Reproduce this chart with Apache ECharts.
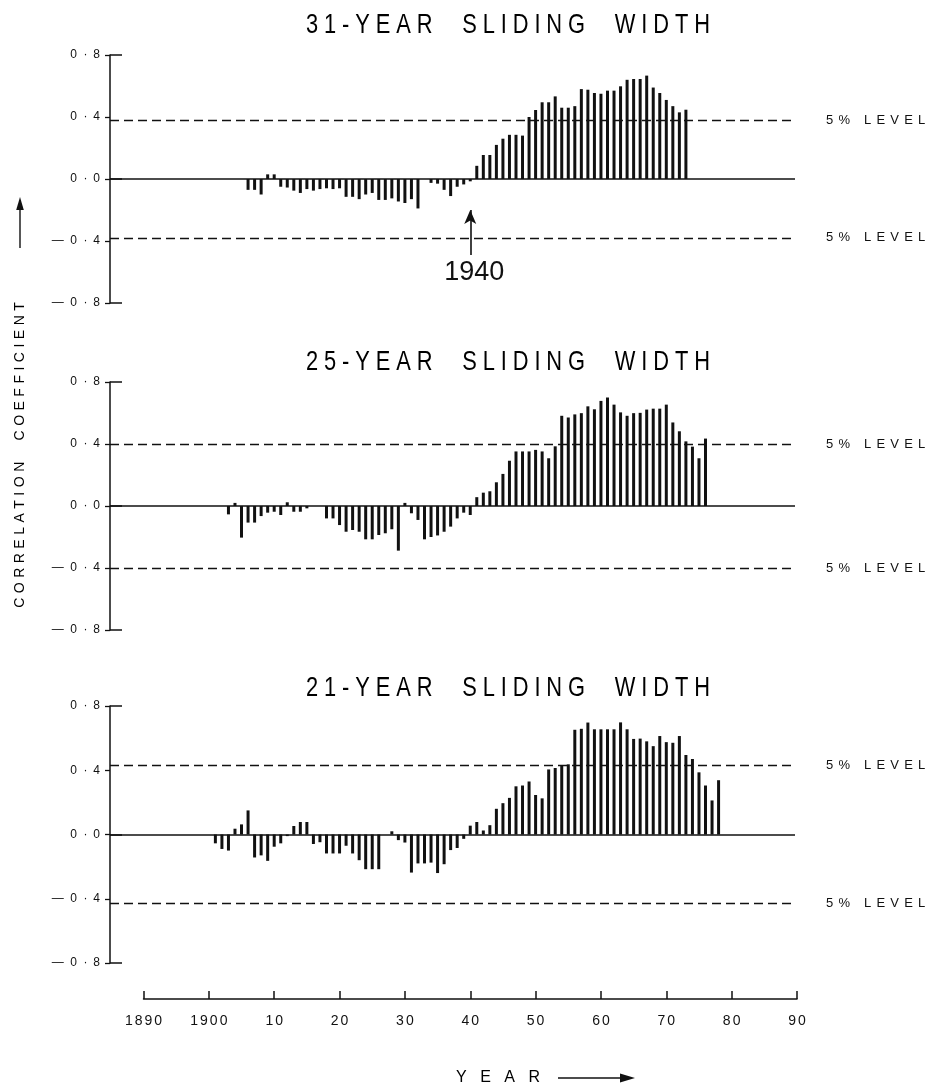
<!DOCTYPE html>
<html>
<head>
<meta charset="utf-8">
<script src="https://cdn.jsdelivr.net/npm/echarts@6/dist/echarts.min.js"></script>
<style>
html,body{margin:0;padding:0;background:#fff;}
#c{width:929px;height:1086px;}
</style>
</head>
<body>
<div id="c"></div>
<script>
// ---------------- DATA ----------------
const panelTitles = ['31-YEAR  SLIDING  WIDTH', '25-YEAR  SLIDING  WIDTH', '21-YEAR  SLIDING  WIDTH'];
const levelLabel = '5% LEVEL';
const yAxisTitle = 'CORRELATION  COEFFICIENT';
const xAxisTitle = 'YEAR';
const markYear = 1940;

const xTicks = [1890, 1900, 1910, 1920, 1930, 1940, 1950, 1960, 1970, 1980, 1990];
const xTickLabels = ['1890', '1900', '10', '20', '30', '40', '50', '60', '70', '80', '90'];
const yTickValues = [-8, -4, 0, 4, 8];
const yTickLabels = ['—0·8', '—0·4', '0·0', '0·4', '0·8'];

// 5 % significance levels drawn in each panel
const level31 = 0.38;
const level25 = 0.40;
const level21 = 0.43;

// 31-year sliding width: centre years 1906 ... 1973
const firstYear31 = 1906;
const r31 = [
  -0.07, -0.07, -0.10, 0.03, 0.03, -0.05, -0.055, -0.075, -0.09, -0.065,
  -0.075, -0.065, -0.06, -0.065, -0.06, -0.115, -0.115, -0.13, -0.10, -0.09,
  -0.135, -0.135, -0.125, -0.145, -0.155, -0.13, -0.19, 0, -0.025, -0.03,
  -0.07, -0.11, -0.05, -0.035, -0.015,
  0.085, 0.155, 0.155, 0.22, 0.26, 0.285, 0.285, 0.28, 0.40, 0.445,
  0.495, 0.495, 0.533, 0.46, 0.46, 0.47, 0.58, 0.576, 0.555, 0.55,
  0.57, 0.57, 0.598, 0.64, 0.645, 0.645, 0.667, 0.59, 0.555, 0.51,
  0.47, 0.43, 0.447
];

// 25-year sliding width: centre years 1903 ... 1976
const firstYear25 = 1903;
const r25 = [
  -0.054, 0.02, -0.204, -0.107, -0.107, -0.065, -0.043, -0.037, -0.058, 0.024,
  -0.037, -0.037, -0.015, 0, 0, -0.08, -0.08, -0.123, -0.166, -0.155,
  -0.166, -0.215, -0.215, -0.187, -0.176, -0.15, -0.288, 0.02, -0.047, -0.09,
  -0.215, -0.2, -0.19, -0.166, -0.133, -0.08, -0.043, -0.058,
  0.057, 0.086, 0.095, 0.153, 0.207, 0.292, 0.352, 0.352, 0.352, 0.362,
  0.352, 0.308, 0.385, 0.582, 0.571, 0.591, 0.599, 0.643, 0.624, 0.678,
  0.70, 0.654, 0.604, 0.582, 0.599, 0.601, 0.622, 0.628, 0.628, 0.654,
  0.539, 0.482, 0.417, 0.383, 0.308, 0.435
];

// 21-year sliding width: centre years 1901 ... 1978
const firstYear21 = 1901;
const r21 = [
  -0.055, -0.09, -0.10, 0.036, 0.063, 0.15, -0.143, -0.13, -0.164, -0.076,
  -0.055, -0.01, 0.053, 0.078, 0.078, -0.059, -0.048, -0.118, -0.118, -0.118,
  -0.07, -0.118, -0.16, -0.216, -0.216, -0.216, 0, 0.02, -0.035, -0.05,
  -0.237, -0.18, -0.18, -0.175, -0.24, -0.185, -0.097, -0.084, -0.027,
  0.055, 0.078, 0.025, 0.058, 0.16, 0.195, 0.228, 0.30, 0.305, 0.33,
  0.246, 0.225, 0.405, 0.414, 0.427, 0.437, 0.652, 0.658, 0.697, 0.655,
  0.655, 0.655, 0.655, 0.698, 0.655, 0.595, 0.597, 0.58, 0.55, 0.613,
  0.575, 0.571, 0.613, 0.495, 0.47, 0.387, 0.305, 0.212, 0.338
];

// ---------------- LAYOUT / STYLE ----------------
const INK = '#111';
const FONT = "'Liberation Sans', Arial, Helvetica, sans-serif";
const PX_PER_YEAR = 6.535;
const X1890 = 143.5;
const AXIS_X = 110;
const RIGHT_X = 795;
const X_MIN = 1890 - (X1890 - AXIS_X) / PX_PER_YEAR;
const X_MAX = 1890 + (RIGHT_X - X1890) / PX_PER_YEAR;
const panelBoxes = [
  { top: 55, height: 248, titleY: 25 },
  { top: 382, height: 248, titleY: 362 },
  { top: 706, height: 257, titleY: 688 }
];

// Arial / Liberation Sans advance widths (per 1000 em)
const ADV = {
  ' ': 278, '%': 889, '-': 333, '–': 556, '—': 1000, '·': 278,
  '0': 556, '1': 556, '2': 556, '3': 556, '4': 556, '5': 556, '6': 556, '7': 556, '8': 556, '9': 556,
  'A': 667, 'C': 722, 'D': 722, 'E': 667, 'F': 611, 'G': 778, 'H': 722, 'I': 278,
  'L': 556, 'N': 722, 'O': 778, 'R': 722, 'S': 667, 'T': 611, 'V': 667, 'W': 944, 'Y': 667
};
function makeRich(size, gap) {
  const rich = {};
  Object.keys(ADV).forEach(function (ch) {
    const code = ch.charCodeAt(0);
    const w = ADV[ch] / 1000 * size;
    rich['g' + code] = { fontSize: size, fontFamily: FONT, color: INK, align: 'left', width: w + gap };
    rich['n' + code] = { fontSize: size, fontFamily: FONT, color: INK, align: 'left', width: w };
  });
  return rich;
}
function spaced(str) {
  const chars = Array.from(str);
  return chars.map(function (c, i) {
    return '{' + (i === chars.length - 1 ? 'n' : 'g') + c.charCodeAt(0) + '|' + c + '}';
  }).join('');
}
const richAxis = makeRich(12, 6.5);
const richX = makeRich(14, 2);
const richLevel = makeRich(13, 5.2);
const richTitle = makeRich(28, 7.56);
const richYear = makeRich(16, 13.5);
const richVert = makeRich(14, 4.5);

function yearsFrom(first, vals) {
  return vals.map(function (_, i) { return first + i; });
}
const panels = [
  { years: yearsFrom(firstYear31, r31), vals: r31, level: level31 },
  { years: yearsFrom(firstYear25, r25), vals: r25, level: level25 },
  { years: yearsFrom(firstYear21, r21), vals: r21, level: level21 }
];

const grid = [], xAxis = [], yAxis = [], series = [];
panels.forEach(function (p, i) {
  const box = panelBoxes[i];
  grid.push({ left: AXIS_X, width: RIGHT_X - AXIS_X, top: box.top, height: box.height, containLabel: false });
  xAxis.push({ gridIndex: i, type: 'value', min: X_MIN, max: X_MAX, show: false });
  // main y axis
  yAxis.push({
    gridIndex: i, type: 'value', min: -0.8, max: 0.8, interval: 0.4, position: 'left',
    axisLine: { show: true, lineStyle: { color: INK, width: 1.5 } },
    axisTick: { show: true, inside: false, length: 5, lineStyle: { color: INK, width: 1.3 } },
    splitLine: { show: false },
    axisLabel: {
      show: true, margin: 10,
      formatter: function (v) {
        const k = yTickValues.indexOf(Math.round(v * 10));
        return k >= 0 ? spaced(yTickLabels[k]) : '';
      },
      rich: richAxis
    }
  });
  // helper axis: end ticks at +-0.8 pointing into the plot
  yAxis.push({
    gridIndex: i, type: 'value', min: -0.8, max: 0.8, interval: 0.8, position: 'left',
    axisLine: { show: false }, axisLabel: { show: false }, splitLine: { show: false },
    axisTick: { show: true, inside: true, length: 12, lineStyle: { color: INK, width: 1.5 } }
  });

  const mlData = [
    { yAxis: p.level },
    { yAxis: -p.level },
    { yAxis: 0, lineStyle: { type: 'solid', width: 1.6, color: INK }, label: { show: false } }
  ];
  if (i === 0) {
    mlData.push([
      { coord: [markYear, -0.2], symbol: 'arrow', symbolSize: [9, 14],
        lineStyle: { type: 'solid', width: 1.6, color: INK },
        label: { show: true, position: 'end', distance: 4, offset: [4, 0], formatter: String(markYear),
                 fontSize: 27, fontFamily: FONT, color: INK } },
      { coord: [markYear, -0.49], symbol: 'none' }
    ]);
  }
  series.push({
    type: 'bar', xAxisIndex: i, yAxisIndex: 2 * i,
    data: p.years.map(function (y, k) { return [y, p.vals[k]]; }),
    barWidth: 3, itemStyle: { color: INK }, silent: true,
    markLine: {
      silent: true, symbol: ['none', 'none'], animation: false,
      lineStyle: { color: INK, type: [9, 5], width: 1.3 },
      label: {
        show: true, position: 'end', distance: 31,
        formatter: function () { return spaced(levelLabel); },
        rich: richLevel
      },
      data: mlData
    }
  });
});

// shared year axis at the bottom
grid.push({ left: X1890, width: 100 * PX_PER_YEAR, top: 985, height: 14 });
xAxis.push({
  gridIndex: 3, type: 'value', min: 1890, max: 1990, interval: 10, position: 'bottom',
  axisLine: { show: true, onZero: false, lineStyle: { color: INK, width: 1.5 } },
  axisTick: { show: true, inside: true, length: 8, lineStyle: { color: INK, width: 1.5 } },
  splitLine: { show: false },
  axisLabel: {
    margin: 15,
    formatter: function (v) {
      const k = xTicks.indexOf(Math.round(v));
      return k >= 0 ? spaced(xTickLabels[k]) : '';
    },
    rich: richX
  }
});
yAxis.push({ gridIndex: 3, type: 'value', min: 0, max: 1, show: false });
series.push({ type: 'scatter', xAxisIndex: 3, yAxisIndex: 6, data: [], silent: true });

// text decorations
const graphic = [];
panels.forEach(function (p, i) {
  graphic.push({
    type: 'text', x: 306, y: panelBoxes[i].titleY, scaleX: 0.78, silent: true,
    style: { text: spaced(panelTitles[i]), rich: richTitle, align: 'left', verticalAlign: 'middle' }
  });
});
graphic.push({
  type: 'text', x: 20, y: 455, rotation: Math.PI / 2, silent: true,
  style: { text: spaced(yAxisTitle), rich: richVert, align: 'center', verticalAlign: 'middle' }
});
graphic.push({ type: 'line', silent: true, shape: { x1: 20, y1: 248, x2: 20, y2: 207 }, style: { stroke: INK, lineWidth: 1.4 } });
graphic.push({ type: 'polygon', silent: true, shape: { points: [[20, 197], [16.2, 210], [23.8, 210]] }, style: { fill: INK } });
graphic.push({
  type: 'text', x: 456, y: 1078, silent: true,
  style: { text: spaced(xAxisTitle), rich: richYear, align: 'left', verticalAlign: 'middle' }
});
graphic.push({ type: 'line', silent: true, shape: { x1: 558, y1: 1078, x2: 624, y2: 1078 }, style: { stroke: INK, lineWidth: 1.5 } });
graphic.push({ type: 'polygon', silent: true, shape: { points: [[635, 1078], [620, 1073.5], [620, 1082.5]] }, style: { fill: INK } });

const chart = echarts.init(document.getElementById('c'), null, { renderer: 'canvas' });
chart.setOption({
  animation: false,
  backgroundColor: '#fff',
  grid: grid, xAxis: xAxis, yAxis: yAxis, series: series, graphic: graphic
});
</script>
</body>
</html>
